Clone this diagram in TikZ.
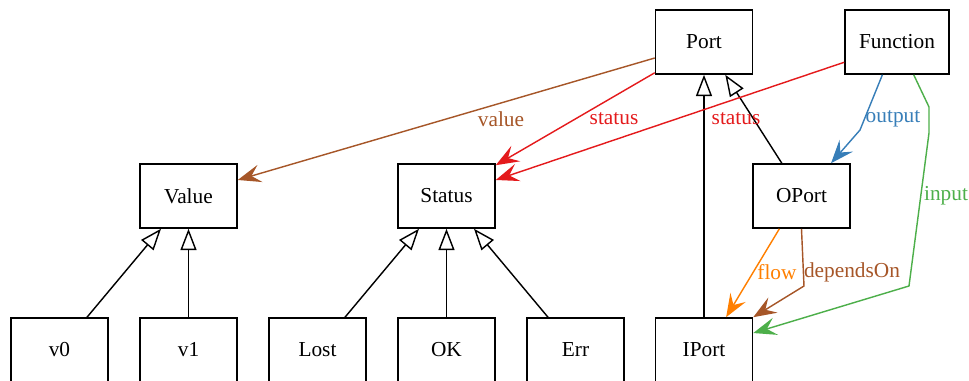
\documentclass[tikz,border=0pt]{standalone}
\usepackage{fontspec}
\setmainfont{Liberation Serif}
\usetikzlibrary{arrows.meta}
\definecolor{setred}{HTML}{E41A1C}
\definecolor{setblue}{HTML}{377EB8}
\definecolor{setgreen}{HTML}{4DAF4A}
\definecolor{setorange}{HTML}{FF7F00}
\definecolor{setbrown}{HTML}{A65628}
\begin{document}
\begin{tikzpicture}[x=0.5625pt,y=-0.5625pt,
    box/.style={draw,line width=0.9pt,minimum width=54.5pt,minimum height=36pt,font=\fontsize{12}{14}\selectfont},
    isa/.style={line width=0.8pt,-{Triangle[open,length=12pt,width=9pt]}},
    rel/.style={line width=0.8pt,-{Stealth[length=13pt,width=10pt,inset=5pt]}},
    lbl/.style={font=\fontsize{12}{14}\selectfont}]
      \useasboundingbox (0,0) rectangle (969,381);
      \node[box] (port) at (704,42) {Port};
      \node[box,minimum width=58.5pt] (function) at (897,42) {Function};
      \node[box] (value) at (188.5,196) {Value};
      \node[box] (status) at (446.5,196) {Status};
      \node[box] (oport) at (801.5,196) {OPort};
      \node[box] (v0) at (59.5,350) {v0};
      \node[box] (v1) at (188.5,350) {v1};
      \node[box] (lost) at (317.5,350) {Lost};
      \node[box] (ok) at (446.5,350) {OK};
      \node[box] (err) at (575.5,350) {Err};
      \node[box] (iport) at (704,350) {IPort};
      \coordinate (outbend) at (860,130);
      \coordinate (inbend1) at (929,107);
      \coordinate (inbend2) at (929,133);
      \coordinate (inbend3) at (909,286);
      \coordinate (depbend) at (804,286);
      \draw[isa] (v0.50) -- (value.230);
      \draw[isa] (v1) -- (value);
      \draw[isa] (lost.50) -- (status.230);
      \draw[isa] (ok) -- (status);
      \draw[isa] (err.130) -- (status.310);
      \draw[isa] (iport) -- (port);
      \draw[isa] (oport.121) -- (port.303);
      \draw[rel,color=setbrown] (port.198) -- (value.18) node[lbl] at (501,119) {value};
      \draw[rel,color=setred] (port.212) -- (status.32) node[lbl] at (614,119) {status};
      \draw[rel,color=setred] (function.201) -- (status.18) node[lbl] at (736,119) {status};
      \draw[rel,color=setblue] (function.246) -- (outbend) -- (oport.48) node[lbl] at (893,119) {output};
      \draw[rel,color=setgreen] (function.297) -- (inbend1) -- (inbend2) -- (inbend3) -- (iport.19) node[lbl] at (946,196) {input};
      \draw[rel,color=setorange] (oport.236) -- (iport.56) node[lbl] at (777,272) {flow};
      \draw[rel,color=setbrown] (oport.south) -- (depbend) -- (iport.north east) node[lbl] at (852,272) {dependsOn};
    \end{tikzpicture}
\end{document}
